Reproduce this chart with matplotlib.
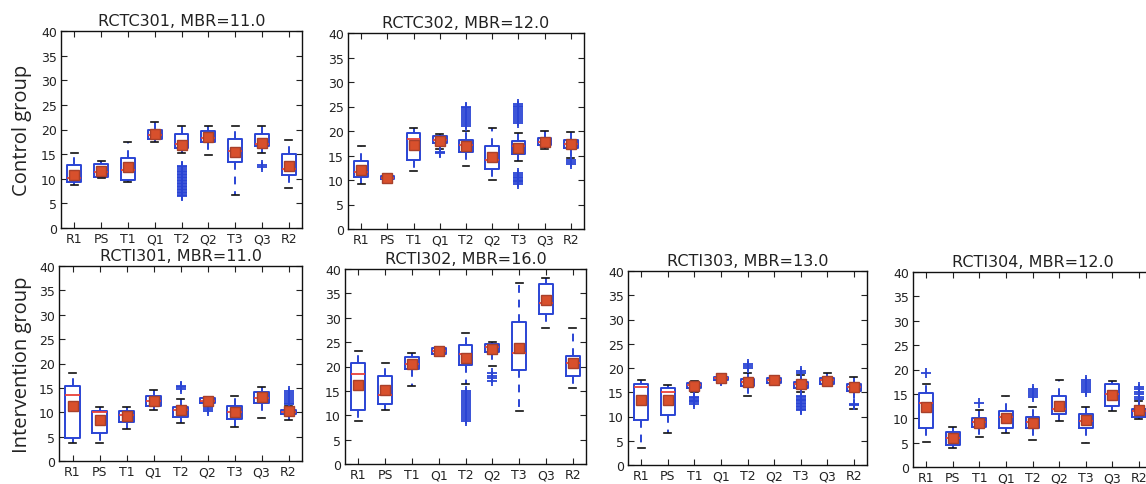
import matplotlib
matplotlib.use("Agg")
import matplotlib.pyplot as plt

W, H = 1146, 485

categories = ["R1", "PS", "T1", "Q1", "T2", "Q2", "T3", "Q3", "R2"]
yticks = [0, 5, 10, 15, 20, 25, 30, 35, 40]
group_labels = ["Control group", "Intervention group"]

# ---------------- RCTC301 ----------------
rctc301_title = "RCTC301, MBR=11.0"
rctc301_whislo = [8.8, 10.1, 9.4, 17.5, 15.2, 14.8, 6.8, 15.2, 8.1]
rctc301_q1 = [9.3, 10.4, 9.8, 18.1, 16.3, 17.5, 13.5, 16.6, 10.7]
rctc301_med = [10.2, 11.3, 11.7, 18.9, 17.0, 18.2, 15.6, 17.0, 12.0]
rctc301_q3 = [12.8, 12.9, 14.3, 20.0, 19.0, 19.6, 18.1, 19.0, 15.1]
rctc301_whishi = [15.3, 13.6, 17.4, 21.6, 20.8, 20.8, 20.8, 20.8, 17.8]
rctc301_mean = [10.8, 11.5, 12.4, 19.0, 16.9, 18.5, 15.4, 17.3, 12.5]
rctc301_fliers = [[], [], [], [],
                  [6.5, 6.8, 7.1, 7.4, 7.7, 8.0, 8.3, 8.6, 8.9, 9.2, 9.5, 9.8,
                   10.1, 10.4, 10.7, 11.0, 11.3, 11.6, 11.9, 12.3, 12.6],
                  [], [], [12.4, 12.8], []]

# ---------------- RCTC302 ----------------
rctc302_title = "RCTC302, MBR=12.0"
rctc302_whislo = [9.2, 9.9, 11.8, 16.3, 12.8, 10.1, 13.9, 16.4, 14.5]
rctc302_q1 = [10.6, 10.2, 14.0, 17.5, 15.7, 12.2, 15.4, 17.2, 16.5]
rctc302_med = [11.6, 10.5, 18.3, 18.2, 17.2, 14.0, 17.0, 17.8, 17.4]
rctc302_q3 = [13.8, 10.8, 19.6, 18.9, 18.1, 16.9, 17.9, 18.5, 18.1]
rctc302_whishi = [16.9, 11.3, 20.6, 19.4, 20.1, 20.7, 19.6, 19.9, 19.8]
rctc302_mean = [12.1, 10.5, 17.2, 18.0, 17.0, 14.6, 16.6, 17.7, 17.3]
rctc302_fliers = [[], [], [], [15.5, 15.8],
                  [21.0, 21.4, 21.8, 22.2, 22.6, 23.0, 23.4, 23.8, 24.2, 24.6, 25.0],
                  [],
                  [21.6, 22.0, 22.4, 22.8, 23.2, 23.6, 24.0, 24.4, 24.8, 25.2, 25.5,
                   9.2, 9.5, 9.8, 10.1, 10.4, 10.7, 11.0, 11.4],
                  [], [13.3, 13.7, 14.0]]

# ---------------- RCTI301 ----------------
rcti301_title = "RCTI301, MBR=11.0"
rcti301_whislo = [3.6, 3.6, 6.5, 10.5, 7.8, 11.5, 6.9, 8.9, 8.4]
rcti301_q1 = [4.8, 5.8, 8.1, 11.2, 9.1, 11.9, 8.6, 12.0, 9.6]
rcti301_med = [13.6, 10.1, 9.5, 12.3, 10.4, 12.4, 10.1, 13.0, 10.1]
rcti301_q3 = [15.3, 10.3, 10.2, 13.4, 11.1, 12.9, 11.3, 14.2, 10.5]
rcti301_whishi = [18.0, 11.0, 11.0, 14.6, 12.7, 13.0, 13.4, 15.1, 11.2]
rcti301_mean = [11.2, 8.4, 9.2, 12.4, 10.5, 12.3, 10.0, 13.2, 10.2]
rcti301_fliers = [[], [], [], [], [14.8, 15.1, 15.4], [10.3, 10.7, 11.0], [], [],
                  [11.6, 12.0, 12.4, 12.8, 13.2, 13.6, 14.0, 14.3]]

# ---------------- RCTI302 ----------------
rcti302_title = "RCTI302, MBR=16.0"
rcti302_whislo = [8.9, 11.1, 16.1, 22.2, 16.5, 20.2, 10.9, 28.0, 15.6]
rcti302_q1 = [11.1, 12.4, 19.4, 22.5, 20.4, 22.9, 19.3, 30.8, 18.1]
rcti302_med = [18.5, 14.2, 20.6, 23.1, 22.6, 24.0, 22.8, 33.0, 20.7]
rcti302_q3 = [20.7, 18.0, 21.9, 23.8, 24.4, 24.6, 29.1, 36.9, 22.1]
rcti302_whishi = [23.1, 20.7, 22.8, 24.0, 26.8, 25.0, 37.1, 38.2, 28.0]
rcti302_mean = [16.2, 15.2, 20.5, 23.2, 21.7, 23.6, 23.8, 33.6, 20.7]
rcti302_fliers = [[], [], [], [],
                  [8.9, 9.3, 9.7, 10.1, 10.5, 10.9, 11.3, 11.7, 12.1, 12.5, 12.9,
                   13.3, 13.7, 14.1, 14.5, 15.0],
                  [17.1, 17.6, 18.1, 18.6], [], [], []]

# ---------------- RCTI303 ----------------
rcti303_title = "RCTI303, MBR=13.0"
rcti303_whislo = [3.6, 6.5, 15.0, 17.0, 14.2, 17.0, 15.0, 16.3, 11.6]
rcti303_q1 = [9.3, 10.4, 15.8, 17.5, 16.3, 17.0, 15.9, 16.6, 15.3]
rcti303_med = [16.1, 15.1, 16.5, 18.0, 17.2, 17.6, 16.8, 17.5, 16.1]
rcti303_q3 = [16.8, 15.8, 17.0, 18.2, 17.7, 18.0, 17.2, 18.0, 16.8]
rcti303_whishi = [17.5, 16.4, 17.3, 18.3, 19.0, 18.3, 18.5, 18.9, 18.2]
rcti303_mean = [13.3, 13.5, 16.3, 18.0, 17.1, 17.5, 16.6, 17.3, 16.0]
rcti303_fliers = [[], [], [12.6, 12.9, 13.2, 13.5, 13.8, 14.1], [17.3, 17.6],
                  [20.1, 20.4, 20.8], [],
                  [19.0, 19.4, 11.3, 11.6, 11.9, 12.2, 12.5, 12.8, 13.1, 13.4, 13.7, 14.0, 14.3],
                  [], [12.3, 12.6]]

# ---------------- RCTI304 ----------------
rcti304_title = "RCTI304, MBR=12.0"
rcti304_whislo = [5.1, 4.0, 6.2, 7.0, 5.5, 9.4, 5.0, 11.5, 9.9]
rcti304_q1 = [7.9, 4.6, 8.2, 8.1, 7.9, 10.9, 7.9, 12.5, 10.3]
rcti304_med = [13.1, 5.9, 9.2, 10.2, 9.2, 12.0, 9.5, 14.9, 11.5]
rcti304_q3 = [15.2, 7.2, 10.1, 11.5, 10.3, 14.5, 10.8, 17.0, 12.0]
rcti304_whishi = [17.0, 8.3, 11.6, 14.6, 12.3, 17.9, 12.3, 17.6, 13.5]
rcti304_mean = [12.3, 6.0, 9.0, 10.1, 9.0, 12.6, 9.6, 14.7, 11.7]
rcti304_fliers = [[19.2], [], [13.1], [], [14.4, 14.8, 15.2, 15.6, 15.9], [],
                  [15.4, 15.8, 16.2, 16.6, 17.0, 17.4, 17.8], [],
                  [13.9, 14.4, 14.9, 15.4, 15.9, 16.4]]


def make_stats(whislo, q1, med, q3, whishi, mean, fliers):
    out = []
    for i, c in enumerate(categories):
        out.append(dict(label=c, whislo=whislo[i], q1=q1[i], med=med[i], q3=q3[i],
                        whishi=whishi[i], mean=mean[i], fliers=fliers[i]))
    return out


panels = [
    (rctc301_title, make_stats(rctc301_whislo, rctc301_q1, rctc301_med, rctc301_q3,
                               rctc301_whishi, rctc301_mean, rctc301_fliers), (61, 32, 241, 197)),
    (rctc302_title, make_stats(rctc302_whislo, rctc302_q1, rctc302_med, rctc302_q3,
                               rctc302_whishi, rctc302_mean, rctc302_fliers), (348, 34, 236, 196)),
    (rcti301_title, make_stats(rcti301_whislo, rcti301_q1, rcti301_med, rcti301_q3,
                               rcti301_whishi, rcti301_mean, rcti301_fliers), (59, 267, 243, 195)),
    (rcti302_title, make_stats(rcti302_whislo, rcti302_q1, rcti302_med, rcti302_q3,
                               rcti302_whishi, rcti302_mean, rcti302_fliers), (345, 270, 241, 195)),
    (rcti303_title, make_stats(rcti303_whislo, rcti303_q1, rcti303_med, rcti303_q3,
                               rcti303_whishi, rcti303_mean, rcti303_fliers), (628, 272, 239, 194)),
    (rcti304_title, make_stats(rcti304_whislo, rcti304_q1, rcti304_med, rcti304_q3,
                               rcti304_whishi, rcti304_mean, rcti304_fliers), (913, 273, 239, 195)),
]

BLUE = "#2a44d4"
RED = "#e8413a"

fig = plt.figure(figsize=(W / 100, H / 100), dpi=100)

for title, stats, (px, py, pw, ph) in panels:
    ax = fig.add_axes([px / W, 1 - (py + ph) / H, pw / W, ph / H])
    ax.bxp(stats, positions=list(range(1, 10)), widths=0.52,
           showmeans=True, meanline=False, showfliers=True,
           boxprops=dict(color=BLUE, linewidth=1.4),
           whiskerprops=dict(color=BLUE, linewidth=1.4, linestyle=(0, (4, 3.5))),
           capprops=dict(color="#111111", linewidth=1.2),
           medianprops=dict(color=RED, linewidth=1.3),
           meanprops=dict(marker="s", markerfacecolor="#d8502c",
                          markeredgecolor="#a8402a", markersize=7.5),
           flierprops=dict(marker="+", markeredgecolor=BLUE, markersize=7,
                           markeredgewidth=1.3, linestyle="none"))
    ax.set_xlim(0.5, 9.5)
    ax.set_ylim(0, 40)
    ax.set_yticks(yticks)
    ax.set_yticklabels([str(v) for v in yticks])
    ax.tick_params(direction="in", top=True, right=True, length=4, width=0.8,
                   labelsize=9, colors="#222222", pad=3)
    for sp in ax.spines.values():
        sp.set_linewidth(1.0)
        sp.set_color("#111111")
    ax.set_title(title, fontsize=11.5, pad=4, color="#222222")

fig.text(22 / W, 1 - 130.5 / H, group_labels[0], rotation=90, ha="center", va="center",
         fontsize=14.5, family=["Open Sans", "DejaVu Sans"], color="#222222")
fig.text(22 / W, 1 - 365 / H, group_labels[1], rotation=90, ha="center", va="center",
         fontsize=14.5, family=["Open Sans", "DejaVu Sans"], color="#222222")

fig.savefig("out.png", dpi=100)
